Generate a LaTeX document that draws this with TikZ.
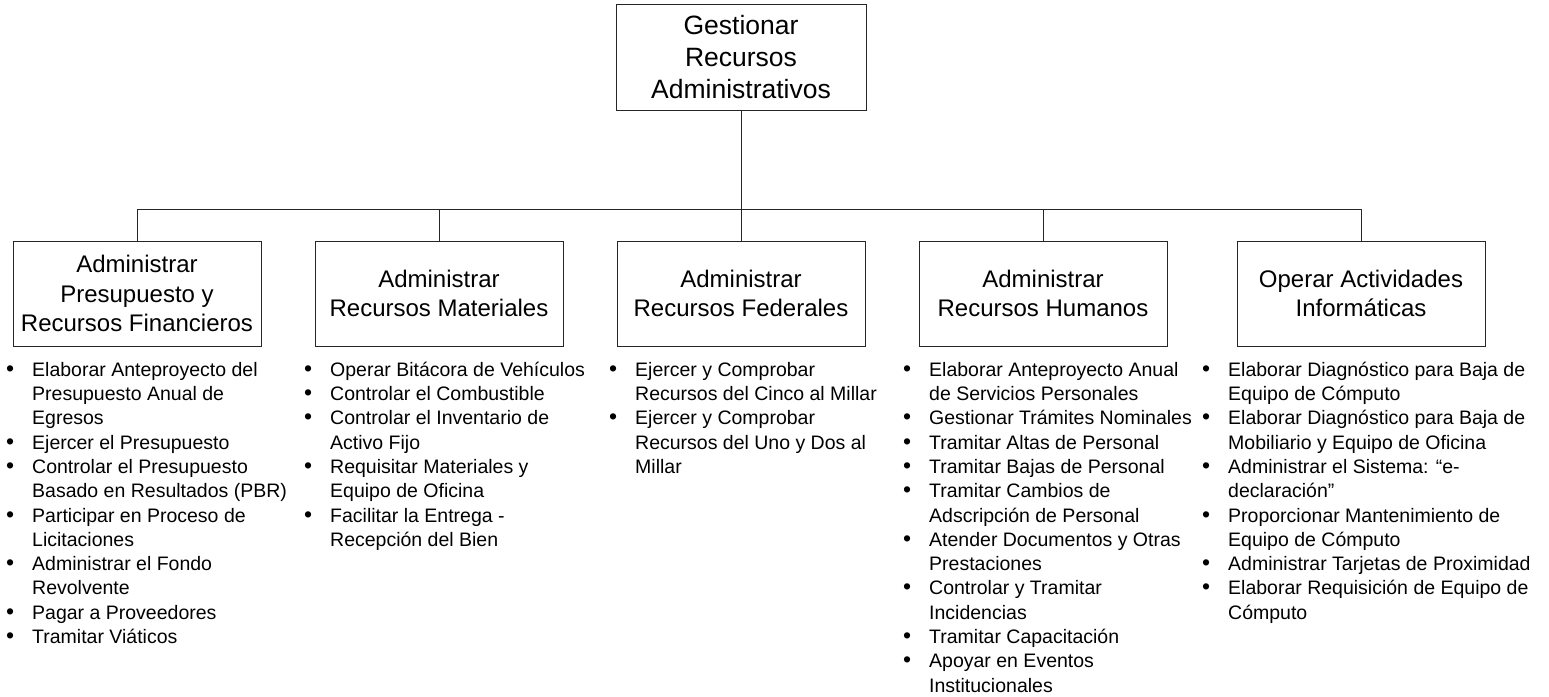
\documentclass[tikz,border=0pt]{standalone}
\usepackage{fontspec}
\setmainfont{Liberation Sans}

\tikzset{
  procbox/.style={draw=black!85, line width=1pt, minimum width=248pt, minimum height=105pt,
    align=center, inner sep=0pt, font=\fontsize{24}{29.7}\selectfont},
  topbox/.style={procbox, minimum width=250pt, minimum height=106pt,
    font=\fontsize{26.5}{32}\selectfont},
  tasklist/.style={anchor=north west, align=left, inner sep=0pt,
    font=\fontsize{19.5}{24.3}\selectfont},
  link/.style={draw=black!85, line width=1pt}
}
\newcommand{\bul}{\strut\makebox[26.5pt][l]{\hspace{0.5pt}{\fontsize{23}{0}\selectfont\textbullet}}}
\newcommand{\cnt}{\strut\hspace*{26.5pt}}

\begin{document}
\begin{tikzpicture}[x=1pt,y=-1pt]
\useasboundingbox (0,0) rectangle (1549,696);
% boxes
\node [topbox] (top) at (741,57) {Gestionar\\Recursos\\Administrativos};
\node [procbox] (adm1) at (137,293.5) {Administrar\\Presupuesto y\\Recursos Financieros};
\node [procbox] (adm2) at (439,293.5) {Administrar\\Recursos Materiales};
\node [procbox] (adm3) at (741,293.5) {Administrar\\Recursos Federales};
\node [procbox] (adm4) at (1043,293.5) {Administrar\\Recursos Humanos};
\node [procbox] (adm5) at (1361,293.5) {Operar Actividades\\Inform\'aticas};
% connectors
\coordinate (bus) at (741,209);
\draw [link] (top.south) -- (top.south |- bus);
\draw [link] (adm1.north) -- (adm1.north |- bus) -- (adm5.north |- bus) -- (adm5.north);
\foreach \n in {adm2,adm3,adm4}
  \draw [link] (\n.north) -- (\n.north |- bus);
% task lists
\node [tasklist] (list1) at (5.5,359) {%
\bul Elaborar Anteproyecto del\\
\cnt Presupuesto Anual de\\
\cnt Egresos\\
\bul Ejercer el Presupuesto\\
\bul Controlar el Presupuesto\\
\cnt Basado en Resultados (PBR)\\
\bul Participar en Proceso de\\
\cnt Licitaciones\\
\bul Administrar el Fondo\\
\cnt Revolvente\\
\bul Pagar a Proveedores\\
\bul Tramitar Viáticos};
\node [tasklist] (list2) at (303.5,359) {%
\bul Operar Bitácora de Vehículos\\
\bul Controlar el Combustible\\
\bul Controlar el Inventario de\\
\cnt Activo Fijo\\
\bul Requisitar Materiales y\\
\cnt Equipo de Oficina\\
\bul Facilitar la Entrega -\\
\cnt Recepción del Bien};
\node [tasklist] (list3) at (608.5,359) {%
\bul Ejercer y Comprobar\\
\cnt Recursos del Cinco al Millar\\
\bul Ejercer y Comprobar\\
\cnt Recursos del Uno y Dos al\\
\cnt Millar};
\node [tasklist] (list4) at (902.5,359) {%
\bul Elaborar Anteproyecto Anual\\
\cnt de Servicios Personales\\
\bul Gestionar Trámites Nominales\\
\bul Tramitar Altas de Personal\\
\bul Tramitar Bajas de Personal\\
\bul Tramitar Cambios de\\
\cnt Adscripción de Personal\\
\bul Atender Documentos y Otras\\
\cnt Prestaciones\\
\bul Controlar y Tramitar\\
\cnt Incidencias\\
\bul Tramitar Capacitación\\
\bul Apoyar en Eventos\\
\cnt Institucionales};
\node [tasklist] (list5) at (1201.5,359) {%
\bul Elaborar Diagnóstico para Baja de\\
\cnt Equipo de Cómputo\\
\bul Elaborar Diagnóstico para Baja de\\
\cnt Mobiliario y Equipo de Oficina\\
\bul Administrar el Sistema: “e-\\
\cnt declaración”\\
\bul Proporcionar Mantenimiento de\\
\cnt Equipo de Cómputo\\
\bul Administrar Tarjetas de Proximidad\\
\bul Elaborar Requisición de Equipo de\\
\cnt Cómputo};
\end{tikzpicture}
\end{document}
